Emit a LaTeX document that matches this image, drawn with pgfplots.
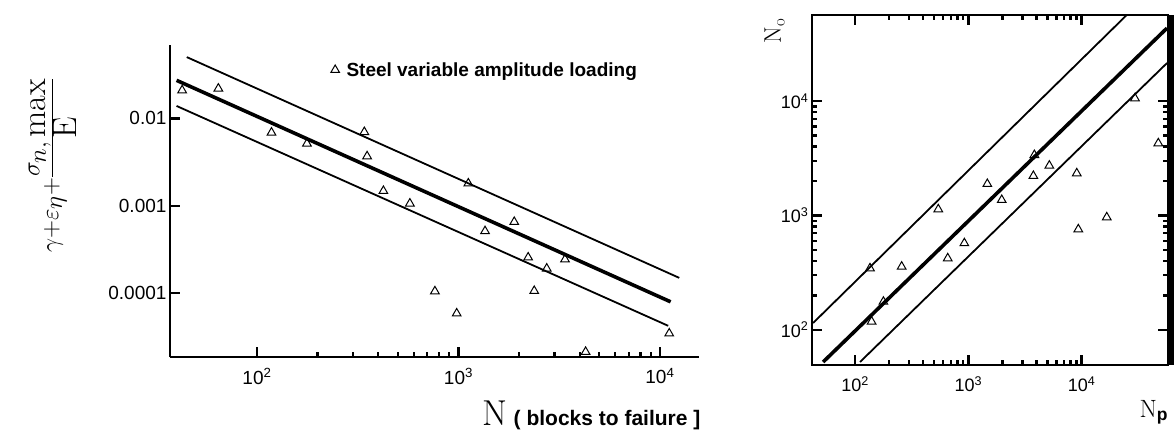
\documentclass[border=0pt]{standalone}
\usepackage{fontspec}
\setsansfont{Liberation Sans}
\usepackage{pgfplots}
\pgfplotsset{compat=1.18}

% strain-life data, variable amplitude loading (steel)
\pgfplotstableread{
N       d
42.5    0.0209
64.3    0.0219
118     0.00687
177     0.00514
341     0.00697
352     0.00368
424     0.001476
574     0.00106
1119    0.00180
1355    0.000512
1892    0.000653
2218    0.000256
2742    0.000191
3379    0.000243
764     0.000105
980     0.0000586
2377    0.000106
11120   0.0000346
4276    0.0000213
}\strain

% predicted vs observed lives
\pgfplotstableread{
Np      No
135.5   345
140     118
178     176
258     357
543     1133
658     422
922     572
1471    1888
1972    1367
3751    2218
3828    3381
5188    2731
9060    2339
9350    757
16670   964
29580   10600
47530   4285
}\lives

\begin{document}
\begin{tikzpicture}
\useasboundingbox (0,0) rectangle (1174pt,432pt);

\begin{axis}[
  at={(170pt,75pt)}, anchor=south west,
  scale only axis, width=529pt, height=312pt,
  xmode=log, ymode=log,
  xmin=37, xmax=15630, ymin=1.86e-5, ymax=0.069,
  axis x line=bottom, axis y line=left,
  axis line style={-, line width=2.2pt},
  tick align=inside,
  xtick={100,1000,10000},
  xticklabels={10\textsuperscript{2},10\textsuperscript{3},10\textsuperscript{4}},
  ytick={0.0001,0.001,0.01},
  yticklabels={0.0001,0.001,0.01},
  yminorticks=false,
  major tick length=10pt, minor tick length=5pt,
  tick style={black, line width=2.4pt},
  ticklabel style={font=\sffamily\fontsize{19}{19}\selectfont},
  xticklabel style={yshift=-8pt},
  clip=false,
  ylabel={$\displaystyle\gamma{+}\varepsilon_{\eta}{+}\frac{\sigma_{\textstyle n,\max}}{\mathrm{E}}$},
  ylabel style={at={(axis description cs:-0.222,0.615)}, anchor=center, font=\fontsize{34}{34}\selectfont},
  xlabel={\fontsize{36}{36}\selectfont N\,{\sffamily\bfseries\fontsize{21}{21}\selectfont( blocks to failure ]}},
  xlabel style={at={(axis description cs:1.003,0)}, anchor=north east, yshift=-44pt, inner sep=0pt},
  legend style={draw=none, fill=none, at={(axis description cs:0.298,0.92)}, anchor=west,
    font=\sffamily\bfseries\fontsize{19}{19}\selectfont},
  legend cell align=left,
]
\addplot[black, line width=1.8pt, forget plot] coordinates {(44.8,0.0502) (12470,1.496e-4)};
\addplot[black, line width=3.6pt, forget plot] coordinates {(39.9,0.0272) (11300,7.96e-5)};
\addplot[black, line width=1.8pt, forget plot] coordinates {(39.9,0.01385) (10990,4.23e-5)};
\addplot[only marks, mark=triangle, mark size=5pt, mark options={black, line width=1pt}]
  table[x=N, y=d] {\strain};
\addlegendentry{\hspace{5pt}Steel variable amplitude loading}
\end{axis}

\begin{axis}[
  at={(812pt,67pt)}, anchor=south west,
  scale only axis, width=356pt, height=350pt,
  xmode=log, ymode=log,
  xmin=41.7, xmax=57900, ymin=49.2, ymax=56800,
  axis line style={line width=2.2pt},
  tick align=inside,
  xtick={100,1000,10000}, ytick={100,1000,10000},
  xticklabels={10\textsuperscript{2},10\textsuperscript{3},10\textsuperscript{4}},
  yticklabels={10\textsuperscript{2},10\textsuperscript{3},10\textsuperscript{4}},
  major tick length=10pt, minor tick length=5pt,
  tick style={black, line width=2.4pt},
  ticklabel style={font=\sffamily\fontsize{18}{18}\selectfont},
  xticklabel style={yshift=-8pt},
  clip=false,
  ylabel={N\textsubscript{o}},
  ylabel style={at={(axis description cs:-0.105,0.955)}, anchor=center, font=\fontsize{24}{24}\selectfont},
  xlabel={N\textsubscript{\sffamily\bfseries p}},
  xlabel style={at={(axis description cs:0.96,-0.135)}, anchor=center, font=\fontsize{25}{25}\selectfont},
  extra description/.code={\draw[line width=6pt] (1.008,0) -- (1.008,1);},
]
\addplot[black, line width=1.8pt] coordinates {(42.6,114.6) (25000,56760)};
\addplot[black, line width=3.6pt] coordinates {(52.3,52.3) (56750,43650)};
\addplot[black, line width=1.8pt] coordinates {(110.7,52.3) (56750,21580)};
\addplot[only marks, mark=triangle, mark size=5pt, mark options={black, line width=1pt}]
  table[x=Np, y=No] {\lives};
\end{axis}
\end{tikzpicture}
\end{document}
